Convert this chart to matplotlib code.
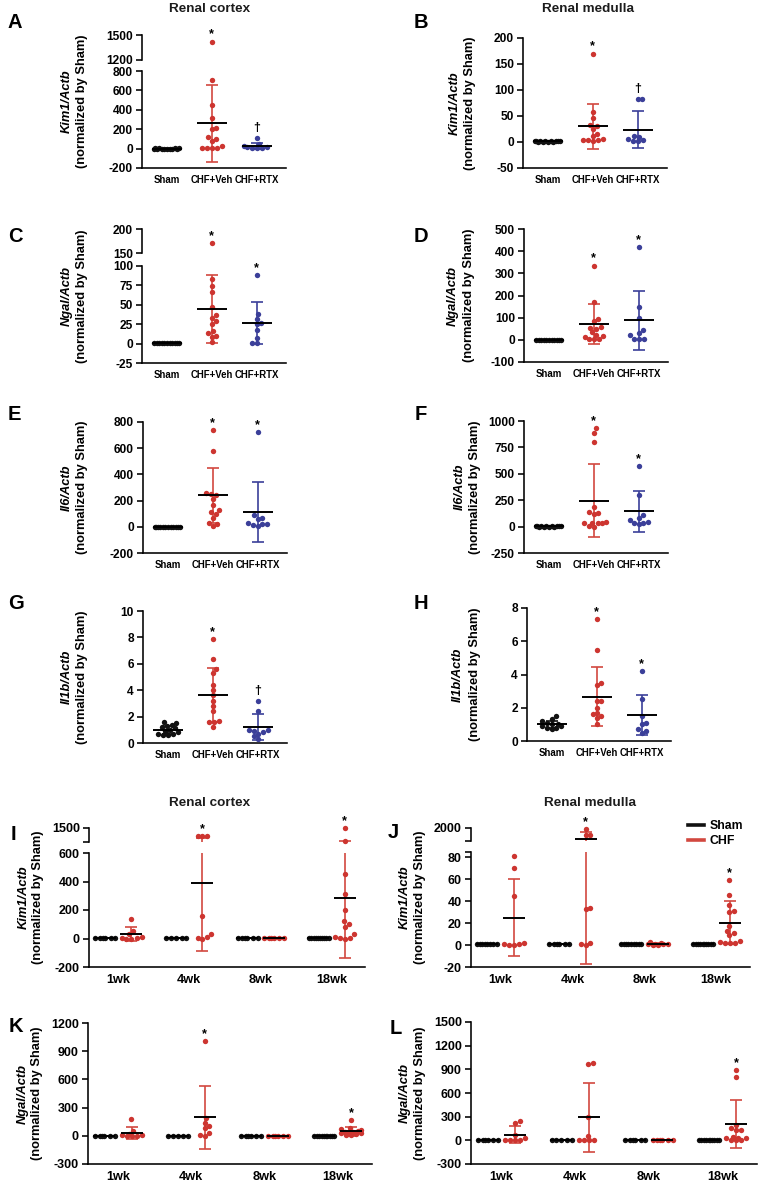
import numpy as np
import matplotlib
matplotlib.use('Agg')
import matplotlib.pyplot as plt
from matplotlib.lines import Line2D

plt.rcParams['font.family'] = ['Liberation Sans', 'DejaVu Sans']
plt.rcParams['font.weight'] = 'bold'
plt.rcParams['axes.unicode_minus'] = False

# ---------------------------------------------------------------- data
groups = ['Sham', 'CHF+Veh', 'CHF+RTX']
weeks = ['1wk', '4wk', '8wk', '18wk']
legend_labels = ['Sham', 'CHF']

# A  Kim1/Actb, renal cortex
kim1_cx_sham = [1.0, 0.9, 1.1, 0.8, 1.2, 1.0, 0.95, 1.05, 0.9, 1.1, 1.0, 0.85]
kim1_cx_veh = [1420, 710, 450, 315, 210, 200, 120, 100, 80, 30, 10, 10, 5, 5]
kim1_cx_rtx = [110, 45, 30, 20, 15, 10, 8, 5]
kim1_cx_mean = [1.0, 260, 25]
kim1_cx_sd = [0.15, 395, 32]
kim1_cx_sig = ['', '*', '\u2020']

# B  Kim1/Actb, renal medulla
kim1_md_sham = [1.0, 0.8, 1.2, 0.9, 1.1, 1.0, 0.7, 1.3, 1.0, 0.9, 1.1, 1.0]
kim1_md_veh = [170, 58, 46, 33, 30, 25, 15, 12, 5, 3, 3, 3, 1]
kim1_md_rtx = [82, 82, 12, 10, 6, 3, 2, 1]
kim1_md_mean = [1.0, 30, 24]
kim1_md_sd = [0.3, 44, 36]
kim1_md_sig = ['', '*', '\u2020']

# C  Ngal/Actb, renal cortex
ngal_cx_sham = [1.0, 0.8, 1.2, 0.9, 1.1, 1.0, 0.7, 1.3, 1.0, 0.9, 1.1]
ngal_cx_veh = [170, 83, 74, 67, 47, 37, 33, 29, 25, 16, 14, 10, 9, 2]
ngal_cx_rtx = [88, 38, 32, 26, 25, 17, 7, 1, 0.5]
ngal_cx_mean = [1.0, 45, 26]
ngal_cx_sd = [0.4, 44, 27]
ngal_cx_sig = ['', '*', '*']

# D  Ngal/Actb, renal medulla
ngal_md_sham = [1.0, 0.8, 1.2, 0.9, 1.1, 1.0, 0.7, 1.3, 1.0, 0.9, 1.1]
ngal_md_veh = [335, 170, 95, 85, 60, 55, 50, 35, 20, 18, 15, 5, 3, 2]
ngal_md_rtx = [420, 150, 100, 45, 30, 20, 5, 5, 2]
ngal_md_mean = [1.0, 70, 88]
ngal_md_sd = [0.5, 90, 133]
ngal_md_sig = ['', '*', '*']

# E  Il6/Actb, renal cortex
il6_cx_sham = [1.0, 0.8, 1.2, 0.9, 1.1, 1.0, 0.7, 1.3, 1.0, 0.9, 1.1, 1.0]
il6_cx_veh = [740, 575, 260, 250, 240, 210, 170, 130, 110, 100, 70, 30, 20, 5]
il6_cx_rtx = [720, 90, 70, 60, 30, 25, 20, 10, 5]
il6_cx_mean = [1.0, 240, 112]
il6_cx_sd = [0.5, 210, 230]
il6_cx_sig = ['', '*', '*']

# F  Il6/Actb, renal medulla
il6_md_sham = [1.0, 0.8, 1.2, 0.9, 1.1, 1.0, 0.7, 1.3, 1.0, 0.9, 1.1, 1.0]
il6_md_veh = [930, 890, 800, 190, 140, 130, 120, 40, 35, 30, 30, 30, 10, 0]
il6_md_rtx = [575, 300, 110, 80, 60, 40, 35, 30, 20]
il6_md_mean = [1.0, 245, 145]
il6_md_sd = [0.5, 345, 195]
il6_md_sig = ['', '*', '*']

# G  Il1b/Actb, renal cortex
il1b_cx_sham = [1.6, 1.5, 1.4, 1.3, 1.2, 1.1, 1.0, 0.9, 0.8, 0.7, 0.7, 0.6, 0.6]
il1b_cx_veh = [7.9, 6.4, 5.6, 5.3, 4.4, 4.0, 3.6, 3.2, 2.8, 2.4, 1.7, 1.6, 1.6, 1.25]
il1b_cx_rtx = [3.2, 2.4, 1.0, 1.0, 0.9, 0.8, 0.7, 0.5, 0.3]
il1b_cx_mean = [1.0, 3.65, 1.2]
il1b_cx_sd = [0.3, 2.05, 0.97]
il1b_cx_sig = ['', '*', '\u2020']

# H  Il1b/Actb, renal medulla
il1b_md_sham = [1.5, 1.3, 1.2, 1.1, 1.0, 1.0, 0.9, 0.9, 0.8, 0.8, 0.7]
il1b_md_veh = [7.35, 5.45, 3.5, 3.35, 2.4, 2.4, 2.0, 1.7, 1.6, 1.5, 1.4, 1.0]
il1b_md_rtx = [4.2, 2.5, 1.5, 1.1, 1.0, 0.7, 0.6, 0.5]
il1b_md_mean = [1.0, 2.67, 1.55]
il1b_md_sd = [0.22, 1.78, 1.2]
il1b_md_sig = ['', '*', '*']

# I  Kim1/Actb, renal cortex, time course
kim1_cx_t_sham = [[1.2, 0.9, 1.0, 1.1, 0.8, 1.0],
                  [1.1, 0.9, 1.0, 1.0, 0.95],
                  [1.2, 0.9, 1.0, 1.1, 0.8, 1.0],
                  [1.2, 0.9, 1.0, 1.1, 0.8, 1.0, 1.05, 0.95, 1.0, 1.1]]
kim1_cx_t_chf = [[140, 55, 30, 10, 5, 5, 0, 0],
                 [1000, 990, 1010, 155, 30, 10, 5, 0],
                 [1.0, 0.9, 1.1, 1.0, 0.8, 1.2],
                 [1480, 705, 450, 315, 200, 120, 105, 80, 30, 10, 5, 2, 0]]
kim1_cx_t_sham_mean = [1.0, 1.0, 1.0, 1.0]
kim1_cx_t_sham_sd = [0.15, 0.1, 0.15, 0.12]
kim1_cx_t_chf_mean = [30, 390, 1.0, 285]
kim1_cx_t_chf_sd = [50, 480, 0.2, 420]
kim1_cx_t_sig = ['', '*', '', '*']

# J  Kim1/Actb, renal medulla, time course
kim1_md_t_sham = [[1.2, 0.9, 1.0, 1.1, 0.6, 1.0, 1.4, 0.8],
                  [1.1, 0.9, 1.0, 1.0, 0.95, 1.05],
                  [1.2, 0.9, 1.0, 1.1, 0.8, 1.0, 1.05, 0.95, 1.0],
                  [1.2, 0.9, 1.0, 1.1, 0.8, 1.0, 1.05, 0.95, 1.0, 1.1]]
kim1_md_t_chf = [[81, 70, 45, 2, 1, 1, 0.5, 0.5],
                 [1850, 1190, 1190, 34, 33, 1.5, 1, 0.5],
                 [2.5, 1.5, 1.0, 1.0, 0.8, 0.6, 0.5, 0.5],
                 [59, 46, 37, 31, 30, 17, 13, 11, 9, 4, 3, 2, 2, 2]]
kim1_md_t_sham_mean = [1.0, 1.0, 1.0, 1.0]
kim1_md_t_sham_sd = [0.3, 0.1, 0.15, 0.15]
kim1_md_t_chf_mean = [25, 765, 1.0, 20.5]
kim1_md_t_chf_sd = [35, 782, 0.7, 19.5]
kim1_md_t_sig = ['', '*', '', '*']

# K  Ngal/Actb, renal cortex, time course
ngal_cx_t_sham = [[1.2, 0.9, 1.0, 1.1, 0.8, 1.0],
                  [1.1, 0.9, 1.0, 1.0, 0.95],
                  [1.2, 0.9, 1.0, 1.1, 0.8, 1.0],
                  [1.2, 0.9, 1.0, 1.1, 0.8, 1.0, 1.05, 0.95, 1.0, 1.1]]
ngal_cx_t_chf = [[175, 50, 20, 10, 5, 2, 1, 0],
                 [1005, 190, 140, 105, 85, 30, 5, 0],
                 [1.0, 0.9, 1.1, 1.0, 0.8, 1.2],
                 [170, 80, 70, 60, 50, 45, 40, 35, 30, 25, 20, 10, 5]]
ngal_cx_t_sham_mean = [1.0, 1.0, 1.0, 1.0]
ngal_cx_t_sham_sd = [0.15, 0.1, 0.15, 0.12]
ngal_cx_t_chf_mean = [30, 195, 1.0, 48]
ngal_cx_t_chf_sd = [60, 335, 0.2, 45]
ngal_cx_t_sig = ['', '*', '', '*']

# L  Ngal/Actb, renal medulla, time course
ngal_md_t_sham = [[1.2, 0.9, 1.0, 1.1, 0.8, 1.0],
                  [1.1, 0.9, 1.0, 1.0, 0.95],
                  [1.2, 0.9, 1.0, 1.1, 0.8, 1.0],
                  [1.2, 0.9, 1.0, 1.1, 0.8, 1.0, 1.05, 0.95, 1.0, 1.1]]
ngal_md_t_chf = [[240, 225, 70, 30, 10, 2, 1, 0],
                 [980, 965, 295, 60, 5, 2, 0, 0],
                 [1.0, 0.9, 1.1, 1.0, 0.8, 1.2],
                 [895, 805, 195, 160, 135, 130, 45, 35, 30, 25, 5, 2, 0]]
ngal_md_t_sham_mean = [1.0, 1.0, 1.0, 1.0]
ngal_md_t_sham_sd = [0.15, 0.1, 0.15, 0.12]
ngal_md_t_chf_mean = [68, 290, 1.0, 207]
ngal_md_t_chf_sd = [108, 435, 0.2, 310]
ngal_md_t_sig = ['', '', '', '*']

# ---------------------------------------------------------------- style
W, H = 759, 1187
fig = plt.figure(figsize=(W / 100, H / 100), dpi=100)
fig.patch.set_facecolor('white')

RED = '#cd3530'
RED_BAR = '#d2483f'
BLUE = '#3b3f99'
BLACK = '#111111'
SPINE_W = 1.15


def px_ax(x0, x1, yt, yb):
    return fig.add_axes([x0 / W, 1 - yb / H, (x1 - x0) / W, (yb - yt) / H])


def swarm(ypix, d=4.8, maxw=26.0, step=0.8):
    """Beeswarm offsets (pixels); overlap allowed when width is exhausted."""
    ypix = np.asarray(ypix, float)
    half = maxw / 2.0
    cands = np.arange(-half, half + 1e-6, step)
    cands = np.array(sorted(cands, key=lambda c: (round(abs(c), 6), c)))
    placed_x, placed_y = [], []
    off = np.zeros(len(ypix))
    for i in np.argsort(ypix):
        if not placed_x:
            off[i] = 0.0
        else:
            px = np.array(placed_x)
            py = np.array(placed_y)
            dist = np.sqrt((cands[:, None] - px[None, :]) ** 2 +
                           (ypix[i] - py[None, :]) ** 2).min(axis=1)
            ok = np.where(dist >= d)[0]
            if len(ok):
                off[i] = cands[ok[0]]
            else:
                off[i] = cands[np.argmax(dist)]
        placed_x.append(off[i])
        placed_y.append(ypix[i])
    return off


def draw_panel(x0, x1, segs, xlim, positions, datasets, means, sds,
               colors, barcolors, sigs, xticks, xticklabels, xfs, yfs,
               mean_hw_px, maxw_px):
    axes = []
    for i, (yt, yb, ylim, ticks, labels) in enumerate(segs):
        ax = px_ax(x0, x1, yt, yb)
        ax.set_xlim(*xlim)
        ax.set_ylim(*ylim)
        ax.patch.set_alpha(0)
        for s in ['top', 'right']:
            ax.spines[s].set_visible(False)
        ax.spines['left'].set_linewidth(SPINE_W)
        ax.spines['bottom'].set_linewidth(SPINE_W)
        ax.set_yticks(ticks)
        ax.set_yticklabels(labels)
        ax.tick_params(axis='y', length=4.5, width=SPINE_W, pad=2,
                       labelsize=yfs, colors='black')
        last = (i == len(segs) - 1)
        if last:
            ax.set_xticks(xticks)
            ax.set_xticklabels(xticklabels, fontsize=xfs)
            ax.tick_params(axis='x', length=0, pad=5)
        else:
            ax.spines['bottom'].set_visible(False)
            ax.set_xticks([])
        axes.append(ax)

    ppu = (x1 - x0) / (xlim[1] - xlim[0])

    def seg_for(v):
        for ax in axes:
            lo, hi = ax.get_ylim()
            if lo <= v <= hi:
                return ax
        best = None
        bd = None
        for ax in axes:
            lo, hi = ax.get_ylim()
            dd = min(abs(v - lo), abs(v - hi))
            if bd is None or dd < bd:
                bd, best = dd, ax
        return best

    for pos, vals, m, s, c, bc, sig in zip(positions, datasets, means, sds,
                                         colors, barcolors, sigs):
        vals = np.asarray(vals, float)
        owner = [seg_for(v) for v in vals]
        ypix = np.array([ax.transData.transform((0, v))[1]
                         for ax, v in zip(owner, vals)])
        offs = swarm(ypix, maxw=maxw_px)
        hw = mean_hw_px / ppu
        for ax in axes:
            idx = [k for k in range(len(vals)) if owner[k] is ax]
            ax.errorbar(pos, m, yerr=s, fmt='none', ecolor=bc,
                        elinewidth=1.2, capsize=4.2, capthick=1.2, zorder=2)
            if idx:
                idx = np.array(idx)
                ax.scatter(pos + offs[idx] / ppu, vals[idx], s=15, color=c,
                           linewidths=0, zorder=3, clip_on=False)
            ax.plot([pos - hw, pos + hw], [m, m], color='black', lw=1.4,
                    zorder=4, solid_capstyle='butt')
        if sig:
            vmax = vals.max()
            ax = seg_for(vmax)
            off = 4 if sig == '*' else 7
            ax.annotate(sig, (pos, vmax), xytext=(0, off),
                        textcoords='offset pixels', ha='center',
                        va='baseline', fontsize=9, fontweight='bold',
                        annotation_clip=False)
    return axes


def ticks_lab(vals, hide=()):
    return vals, [('' if v in hide else str(v)) for v in vals]


def ylab(xi, xn, yc, gene):
    fig.text(xi / W, 1 - yc / H, gene, rotation=90, ha='center', va='center',
             fontsize=9.3, fontstyle='italic', fontweight='bold')
    fig.text(xn / W, 1 - yc / H, '(normalized by Sham)', rotation=90,
             ha='center', va='center', fontsize=9.3, fontweight='bold')


def letter(x, y, t):
    fig.text(x / W, 1 - y / H, t, ha='left', va='center', fontsize=14.5,
             fontweight='bold')


grp_pos = list(range(len(groups)))
grp_colors = [BLACK, RED, BLUE]
grp_bars = [BLACK, RED_BAR, BLUE]
GX = (-0.55, 2.65)


def group(x0, segs, data, mean, sd, sig):
    draw_panel(x0, x0 + 144, segs, GX, grp_pos, data, mean, sd, grp_colors,
               grp_bars, sig, grp_pos, groups, 6.9, 8.6, 15, 26)


# A
t1, l1 = ticks_lab([1200, 1500])
t2, l2 = ticks_lab([-200, 0, 200, 400, 600, 800])
group(142, [(35, 60, (1200, 1500), t1, l1), (71, 168, (-200, 800), t2, l2)],
      [kim1_cx_sham, kim1_cx_veh, kim1_cx_rtx], kim1_cx_mean, kim1_cx_sd, kim1_cx_sig)
# B
t, l = ticks_lab([-50, 0, 50, 100, 150, 200])
group(523, [(38, 168, (-50, 200), t, l)],
      [kim1_md_sham, kim1_md_veh, kim1_md_rtx], kim1_md_mean, kim1_md_sd, kim1_md_sig)
# C
t1, l1 = ticks_lab([150, 200])
t2, l2 = ticks_lab([-25, 0, 25, 50, 75, 100])
group(142, [(229, 253, (150, 200), t1, l1), (266, 363, (-25, 100), t2, l2)],
      [ngal_cx_sham, ngal_cx_veh, ngal_cx_rtx], ngal_cx_mean, ngal_cx_sd, ngal_cx_sig)
# D
t, l = ticks_lab([-100, 0, 100, 200, 300, 400, 500])
group(524, [(229, 362, (-100, 500), t, l)],
      [ngal_md_sham, ngal_md_veh, ngal_md_rtx], ngal_md_mean, ngal_md_sd, ngal_md_sig)
# E
t, l = ticks_lab([-200, 0, 200, 400, 600, 800])
group(143, [(422, 553, (-200, 800), t, l)],
      [il6_cx_sham, il6_cx_veh, il6_cx_rtx], il6_cx_mean, il6_cx_sd, il6_cx_sig)
# F
t, l = ticks_lab([-250, 0, 250, 500, 750, 1000])
group(524, [(421, 553, (-250, 1000), t, l)],
      [il6_md_sham, il6_md_veh, il6_md_rtx], il6_md_mean, il6_md_sd, il6_md_sig)
# G
t, l = ticks_lab([0, 2, 4, 6, 8, 10])
group(143, [(611, 743, (0, 10), t, l)],
      [il1b_cx_sham, il1b_cx_veh, il1b_cx_rtx], il1b_cx_mean, il1b_cx_sd, il1b_cx_sig)
# H
t, l = ticks_lab([0, 2, 4, 6, 8])
group(527, [(608, 741, (0, 8), t, l)],
      [il1b_md_sham, il1b_md_veh, il1b_md_rtx], il1b_md_mean, il1b_md_sd, il1b_md_sig)

# time-course panels
TX = (-0.41, 3.47)
wk_pos = np.arange(len(weeks))
OFF = 0.185


def timecourse(x0, x1, segs, sham, chf, sm, ss, cm, cs, sig):
    positions = list(wk_pos - OFF) + list(wk_pos + OFF)
    datasets = list(sham) + list(chf)
    means = list(sm) + list(cm)
    sds = list(ss) + list(cs)
    colors = [BLACK] * len(weeks) + [RED] * len(weeks)
    bars = [BLACK] * len(weeks) + [RED_BAR] * len(weeks)
    sigs = [''] * len(weeks) + list(sig)
    return draw_panel(x0, x1, segs, TX, positions, datasets, means, sds,
                      colors, bars, sigs, wk_pos, weeks, 9.2, 9.0, 11, 21)


# I
t1, l1 = ticks_lab([650, 1500], hide=(650,))
t2, l2 = ticks_lab([-200, 0, 200, 400, 600])
timecourse(89, 365, [(828, 842, (650, 1500), t1, l1), (853, 967, (-200, 600), t2, l2)],
           kim1_cx_t_sham, kim1_cx_t_chf, kim1_cx_t_sham_mean, kim1_cx_t_sham_sd,
           kim1_cx_t_chf_mean, kim1_cx_t_chf_sd, kim1_cx_t_sig)
# J
t1, l1 = ticks_lab([500, 2000], hide=(500,))
t2, l2 = ticks_lab([-20, 0, 20, 40, 60, 80, 85], hide=(85,))
timecourse(471, 750, [(828, 841, (500, 2000), t1, l1), (852, 967, (-20, 85), t2, l2)],
           kim1_md_t_sham, kim1_md_t_chf, kim1_md_t_sham_mean, kim1_md_t_sham_sd,
           kim1_md_t_chf_mean, kim1_md_t_chf_sd, kim1_md_t_sig)
# K
t, l = ticks_lab([-300, 0, 300, 600, 900, 1200])
timecourse(88, 372, [(1023, 1164, (-300, 1200), t, l)],
           ngal_cx_t_sham, ngal_cx_t_chf, ngal_cx_t_sham_mean, ngal_cx_t_sham_sd,
           ngal_cx_t_chf_mean, ngal_cx_t_chf_sd, ngal_cx_t_sig)
# L
t, l = ticks_lab([-300, 0, 300, 600, 900, 1200, 1500])
timecourse(471, 757, [(1022, 1164, (-300, 1500), t, l)],
           ngal_md_t_sham, ngal_md_t_chf, ngal_md_t_sham_mean, ngal_md_t_sham_sd,
           ngal_md_t_chf_mean, ngal_md_t_chf_sd, ngal_md_t_sig)

# legend (panel J)
handles = [Line2D([], [], color=BLACK, lw=2.6), Line2D([], [], color=RED_BAR, lw=2.6)]
fig.legend(handles, legend_labels, loc='upper left',
           bbox_to_anchor=(688 / W, 1 - 820 / H), frameon=False, fontsize=8.8,
           handlelength=1.3, handletextpad=0.5, labelspacing=0.25,
           borderpad=0, borderaxespad=0)

# y labels
ylab(67, 82, 101.5, 'Kim1/Actb')
ylab(455, 470, 103, 'Kim1/Actb')
ylab(67, 82, 296, 'Ngal/Actb')
ylab(453, 469, 295.5, 'Ngal/Actb')
ylab(67, 82, 487.5, 'Il6/Actb')
ylab(460, 475, 487, 'Il6/Actb')
ylab(67, 82, 677, 'Il1b/Actb')
ylab(458, 475, 674.5, 'Il1b/Actb')
ylab(24, 38, 897.5, 'Kim1/Actb')
ylab(405, 420, 897.5, 'Kim1/Actb')
ylab(23, 37, 1093.5, 'Ngal/Actb')
ylab(405, 420, 1093, 'Ngal/Actb')

# titles
for (x, y, t) in [(210, 9, 'Renal cortex'), (588, 9, 'Renal medulla'),
                  (210, 803, 'Renal cortex'), (590, 803, 'Renal medulla')]:
    fig.text(x / W, 1 - y / H, t, ha='center', va='center', fontsize=9.7,
             fontweight='bold', color='#1c1c1c')

# panel letters
for (x, y, t) in [(8, 22, 'A'), (414, 22, 'B'), (8, 237, 'C'), (414, 237, 'D'),
                  (8, 415, 'E'), (415, 414, 'F'), (8, 604, 'G'), (414, 604, 'H'),
                  (11, 835, 'I'), (388, 832, 'J'), (9, 1026, 'K'), (390, 1028, 'L')]:
    letter(x, y, t)

fig.savefig('out.png', dpi=100, facecolor='white')
